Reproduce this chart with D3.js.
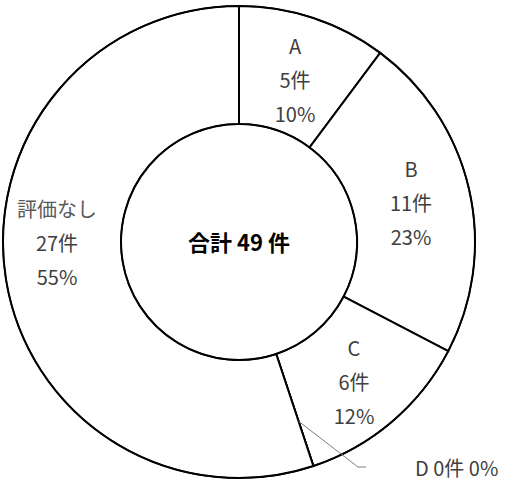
<!DOCTYPE html>
<html>
<head>
<meta charset="utf-8">
<script src="https://cdn.jsdelivr.net/npm/d3@7"></script>
<style>
  body { margin: 0; background: #fff; }
  text { font-family: "Noto Sans CJK JP", "Noto Sans", sans-serif; }
</style>
</head>
<body>
<script>
const categories = ["A", "B", "C", "D", "評価なし"];
const counts = [5, 11, 6, 0, 27];
const percents = ["10%", "23%", "12%", "0%", "55%"];
const totalLabel = "合計 49 件";

const W = 508, H = 481;
const cx = 239, cy = 242;
const rOuter = 236, rInner = 118;

const svg = d3.select("body")
    .append("svg")
    .attr("width", W)
    .attr("height", H);

const g = svg.append("g")
    .attr("transform", `translate(${cx}, ${cy})`);

const data = categories.map((c, i) => ({name: c, value: counts[i], pct: percents[i]}));

const pie = d3.pie()
    .sort(null)
    .value(d => d.value);

const arcs = pie(data);

const arc = d3.arc()
    .innerRadius(rInner)
    .outerRadius(rOuter);

g.selectAll("path.slice")
    .data(arcs)
    .enter()
    .append("path")
    .attr("class", "slice")
    .attr("d", arc)
    .attr("fill", "#fff")
    .attr("stroke", "#000")
    .attr("stroke-width", 2);

// outer / inner rims a bit thinner
g.append("circle").attr("r", rOuter).attr("fill", "none").attr("stroke", "#000").attr("stroke-width", 1.5);
g.append("circle").attr("r", rInner).attr("fill", "none").attr("stroke", "#000").attr("stroke-width", 1.5);

// hand-placed label centres, as in the source chart
const labelPos = {"A": [56, -163], "B": [172, -40], "C": [115, 139], "評価なし": [-182, 0]};
const lineH = 34;

arcs.filter(d => d.data.value > 0).forEach(d => {
    const [x, y] = labelPos[d.data.name];
    const lines = [d.data.name, d.data.value + "件", d.data.pct];
    lines.forEach((t, i) => {
        g.append("text")
            .attr("x", x)
            .attr("y", y + (i - 1) * lineH)
            .attr("text-anchor", "middle")
            .attr("dominant-baseline", "central")
            .attr("font-size", 20)
            .attr("fill", i === 0 && d.data.name === "評価なし" ? "#595959" : "#404040")
            .text(t);
    });
});

// zero slice D with leader line
const dArc = arcs.find(d => d.data.name === "D");
const ang = dArc.startAngle;
const rStart = rInner + (rOuter - rInner) * 0.6;
const p0 = [rStart * Math.sin(ang), -rStart * Math.cos(ang)];
const p1 = [119, 225];
const p2 = [127, 225];
g.append("path")
    .attr("d", d3.line()([p0, p1, p2]))
    .attr("fill", "none")
    .attr("stroke", "#7f7f7f")
    .attr("stroke-width", 1);
g.append("text")
    .attr("x", 176)
    .attr("y", 225)
    .attr("dominant-baseline", "central")
    .attr("font-size", 20)
    .attr("fill", "#404040")
    .text(`${dArc.data.name} ${dArc.data.value}件 ${dArc.data.pct}`);

// center total
g.append("text")
    .attr("x", 0)
    .attr("y", -1)
    .attr("text-anchor", "middle")
    .attr("dominant-baseline", "central")
    .attr("font-size", 22)
    .attr("font-weight", "bold")
    .attr("fill", "#000")
    .text(totalLabel);
</script>
</body>
</html>
